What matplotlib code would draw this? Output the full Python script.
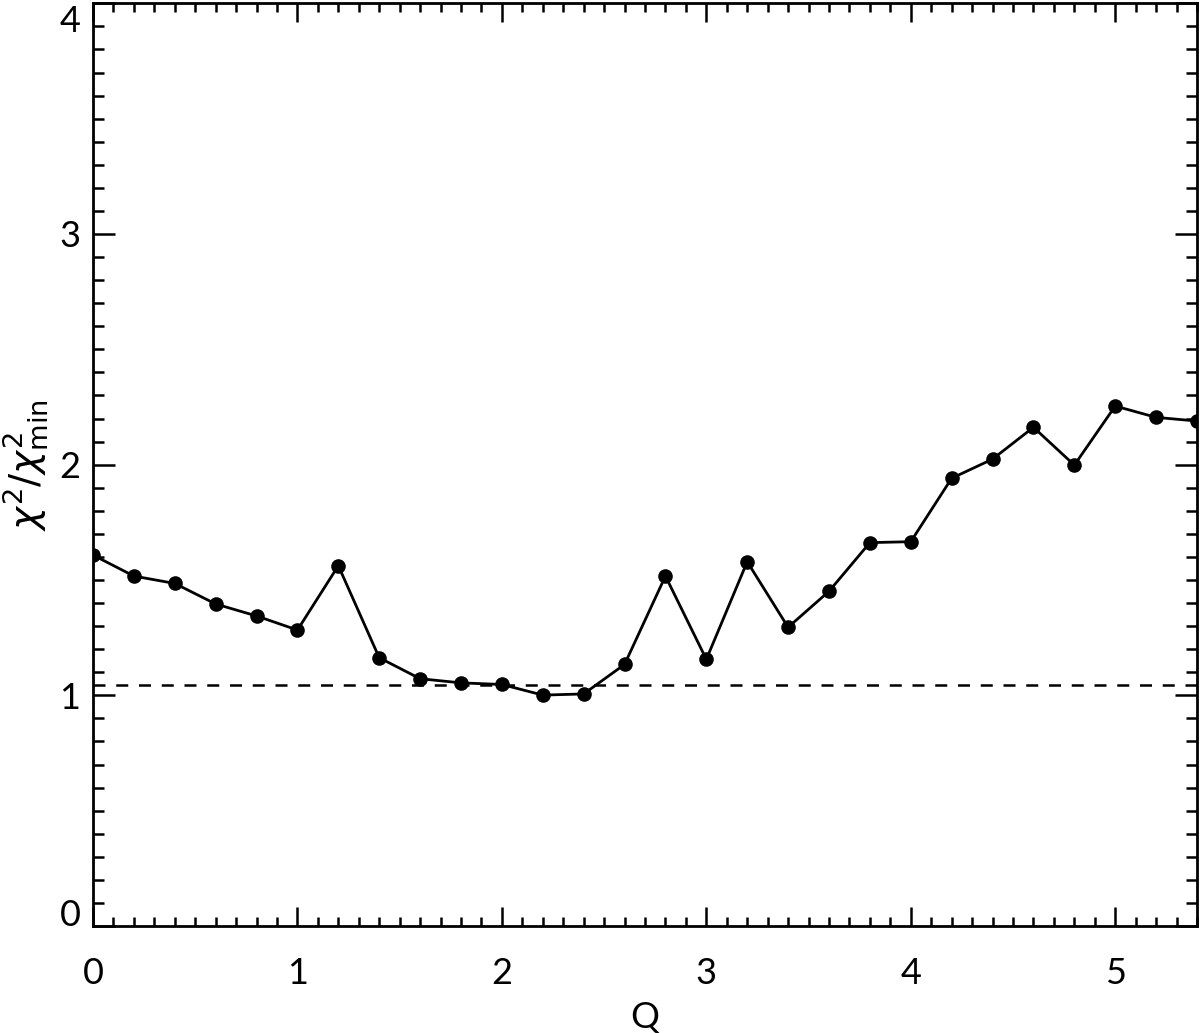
import matplotlib
matplotlib.use("Agg")
import matplotlib.pyplot as plt
import matplotlib.transforms as mtransforms
from matplotlib.ticker import MultipleLocator

# chi^2 ratio as a function of Q
q_values = [0.0, 0.2, 0.4, 0.6, 0.8, 1.0, 1.2, 1.4, 1.6, 1.8,
            2.0, 2.2, 2.4, 2.6, 2.8, 3.0, 3.2, 3.4, 3.6, 3.8,
            4.0, 4.2, 4.4, 4.6, 4.8, 5.0, 5.2, 5.4]
chi2_ratio = [1.608, 1.517, 1.485, 1.396, 1.344, 1.283, 1.562, 1.163, 1.072, 1.054,
              1.047, 1.001, 1.006, 1.134, 1.517, 1.156, 1.579, 1.295, 1.451, 1.662,
              1.666, 1.941, 2.024, 2.162, 1.998, 2.254, 2.205, 2.189]
threshold = 1.045

plt.rcParams['font.family'] = ['Lato', 'DejaVu Sans']
plt.rcParams['mathtext.fontset'] = 'dejavusans'

fig = plt.figure(figsize=(12, 10.33), dpi=100)
W, H = 1200, 1033
ax = fig.add_axes([93 / W, (H - 926) / H, (1197 - 93) / W, (926 - 3.3) / H])

ax.plot(q_values, chi2_ratio, color='black', lw=2.0, marker='o', ms=10.5,
        markeredgewidth=0)
ax.axhline(threshold, color='black', lw=1.8, dashes=(4.8, 4.3))

ax.set_xlim(0, 5.4)
ax.set_ylim(0, 4)
ax.xaxis.set_major_locator(MultipleLocator(1))
ax.xaxis.set_minor_locator(MultipleLocator(0.1))
ax.yaxis.set_major_locator(MultipleLocator(1))
ax.yaxis.set_minor_locator(MultipleLocator(0.1))

for s in ax.spines.values():
    s.set_linewidth(2.0)

ax.tick_params(axis='both', which='both', direction='in', top=True, right=True,
               width=1.8, labelsize=26)
ax.tick_params(axis='x', which='major', length=13.7, pad=22)
ax.tick_params(axis='x', which='minor', length=6.5)
ax.tick_params(axis='y', which='major', length=15.8, pad=9)
ax.tick_params(axis='y', which='minor', length=8)

ax.set_xlabel('Q', fontsize=26, labelpad=8)
ax.set_ylabel(r'$\chi^2/\chi^2_{\rm min}$', fontsize=28)
ax.yaxis.set_label_coords(-0.038, 0.5)

# the end labels of the y axis sit inside the axis range
ticks = ax.yaxis.get_major_ticks()
for t, loc in zip(ticks, ax.get_yticks()):
    if abs(loc - 0) < 1e-6:
        off = mtransforms.ScaledTranslation(0, 14 / 100, fig.dpi_scale_trans)
        t.label1.set_transform(t.label1.get_transform() + off)
    elif abs(loc - 4) < 1e-6:
        off = mtransforms.ScaledTranslation(0, -15 / 100, fig.dpi_scale_trans)
        t.label1.set_transform(t.label1.get_transform() + off)

fig.savefig('out.png', dpi=100)
